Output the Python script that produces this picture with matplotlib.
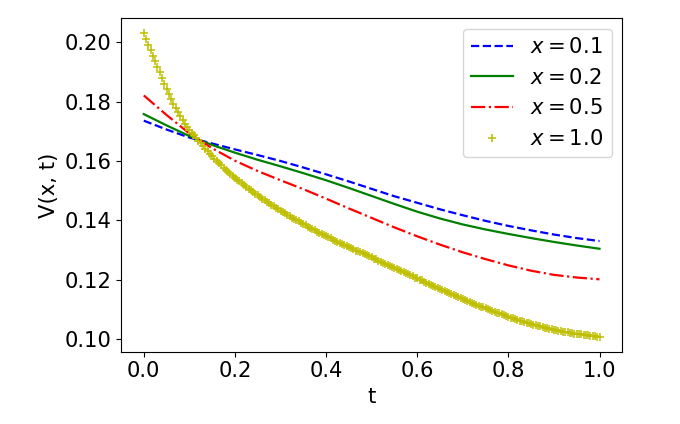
import numpy as np
import matplotlib
matplotlib.use("Agg")
import matplotlib.pyplot as plt

# time grid for the line series (step 0.05)
t_line = [0.00, 0.05, 0.10, 0.15, 0.20, 0.25, 0.30, 0.35, 0.40, 0.45, 0.50,
          0.55, 0.60, 0.65, 0.70, 0.75, 0.80, 0.85, 0.90, 0.95, 1.00]

v_x01 = [0.1736, 0.1706, 0.1679, 0.1659, 0.1639, 0.1620, 0.1600, 0.1578, 0.1555, 0.1531, 0.1506,
         0.1481, 0.1459, 0.1437, 0.1417, 0.1398, 0.1381, 0.1366, 0.1352, 0.1340, 0.1330]
v_x02 = [0.1758, 0.1720, 0.1684, 0.1654, 0.1628, 0.1604, 0.1582, 0.1559, 0.1535, 0.1509, 0.1482,
         0.1455, 0.1429, 0.1406, 0.1386, 0.1369, 0.1354, 0.1340, 0.1327, 0.1315, 0.1304]
v_x05 = [0.1821, 0.1755, 0.1693, 0.1643, 0.1601, 0.1566, 0.1535, 0.1505, 0.1473, 0.1440, 0.1408,
         0.1376, 0.1346, 0.1318, 0.1292, 0.1269, 0.1248, 0.1230, 0.1216, 0.1207, 0.1201]

# time grid for the marker series (step 0.005)
t_mark = [round(0.005 * i, 3) for i in range(201)]
v_x10 = [
    0.2030, 0.2011, 0.1992, 0.1973, 0.1955, 0.1936, 0.1918, 0.1899, 0.1880, 0.1861,
    0.1843, 0.1825, 0.1808, 0.1793, 0.1778, 0.1764, 0.1750, 0.1738, 0.1726, 0.1715,
    0.1705, 0.1695, 0.1686, 0.1677, 0.1668, 0.1659, 0.1650, 0.1641, 0.1633, 0.1624,
    0.1616, 0.1608, 0.1600, 0.1592, 0.1585, 0.1577, 0.1570, 0.1563, 0.1556, 0.1549,
    0.1543, 0.1537, 0.1531, 0.1525, 0.1519, 0.1513, 0.1507, 0.1501, 0.1495, 0.1489,
    0.1484, 0.1478, 0.1473, 0.1468, 0.1463, 0.1457, 0.1452, 0.1447, 0.1442, 0.1437,
    0.1432, 0.1427, 0.1423, 0.1418, 0.1414, 0.1409, 0.1405, 0.1400, 0.1396, 0.1391,
    0.1387, 0.1383, 0.1379, 0.1374, 0.1370, 0.1366, 0.1362, 0.1358, 0.1354, 0.1350,
    0.1346, 0.1342, 0.1339, 0.1335, 0.1331, 0.1327, 0.1324, 0.1320, 0.1316, 0.1312,
    0.1309, 0.1305, 0.1302, 0.1298, 0.1295, 0.1292, 0.1289, 0.1285, 0.1282, 0.1278,
    0.1275, 0.1271, 0.1268, 0.1264, 0.1261, 0.1257, 0.1254, 0.1250, 0.1247, 0.1243,
    0.1240, 0.1236, 0.1233, 0.1229, 0.1226, 0.1222, 0.1218, 0.1214, 0.1211, 0.1207,
    0.1204, 0.1200, 0.1197, 0.1193, 0.1190, 0.1186, 0.1182, 0.1178, 0.1175, 0.1171,
    0.1168, 0.1164, 0.1161, 0.1157, 0.1154, 0.1150, 0.1147, 0.1144, 0.1141, 0.1137,
    0.1134, 0.1131, 0.1128, 0.1124, 0.1121, 0.1118, 0.1115, 0.1112, 0.1109, 0.1106,
    0.1103, 0.1100, 0.1097, 0.1094, 0.1092, 0.1089, 0.1086, 0.1083, 0.1081, 0.1078,
    0.1075, 0.1072, 0.1070, 0.1067, 0.1065, 0.1062, 0.1060, 0.1057, 0.1055, 0.1052,
    0.1050, 0.1048, 0.1046, 0.1044, 0.1042, 0.1040, 0.1038, 0.1036, 0.1034, 0.1032,
    0.1031, 0.1029, 0.1028, 0.1026, 0.1025, 0.1023, 0.1022, 0.1020, 0.1019, 0.1018,
    0.1017, 0.1016, 0.1015, 0.1014, 0.1013, 0.1012, 0.1011, 0.1010, 0.1009, 0.1008,
    0.1008]

labels = [r"$x = 0.1$", r"$x = 0.2$", r"$x = 0.5$", r"$x = 1.0$"]

plt.rcParams["font.size"] = 15.2

fig = plt.figure(figsize=(6.8, 4.24), dpi=100)
ax = fig.add_axes([121 / 680, 1 - 351.7 / 424, (622.3 - 121) / 680, (351.7 - 18.3) / 424])

lw = 1.6
ax.plot(t_line, v_x01, "b--", lw=lw, label=labels[0])
ax.plot(t_line, v_x02, "g-", lw=lw, label=labels[1])
ax.plot(t_line, v_x05, "r-.", lw=lw, label=labels[2])
ax.plot(t_mark, v_x10, "y+", ms=6, mew=1.1, label=labels[3])

ax.set_xlabel("t")
ax.set_ylabel("V(x, t)")
ax.set_xticks([0.0, 0.2, 0.4, 0.6, 0.8, 1.0])
ax.set_yticks([0.10, 0.12, 0.14, 0.16, 0.18, 0.20])
ax.legend(loc="upper right")

fig.savefig("out.png", dpi=100)
